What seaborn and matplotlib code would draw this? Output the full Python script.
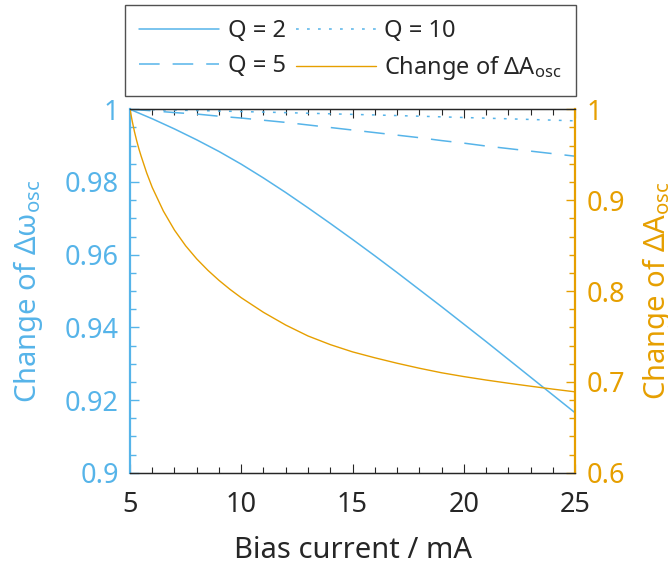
import matplotlib
matplotlib.use("Agg")
import matplotlib.pyplot as plt
import seaborn as sns
import pandas as pd
from matplotlib.ticker import MultipleLocator, FuncFormatter

# Bias current sweep (mA) for the oscillation-frequency curves
current_freq = [5, 6, 7, 8, 9, 10, 11, 12, 13, 14, 15,
                16, 17, 18, 19, 20, 21, 22, 23, 24, 25]

# Normalised change of the oscillation frequency for three quality factors
freq_q2 = [1.0000, 0.9974, 0.9946, 0.9916, 0.9884, 0.9849, 0.9811, 0.9771,
           0.9729, 0.9686, 0.9642, 0.9597, 0.9551, 0.9504, 0.9457, 0.9409,
           0.9361, 0.9312, 0.9263, 0.9214, 0.9165]
freq_q5 = [1.0000, 0.9996, 0.9991, 0.9987, 0.9981, 0.9976, 0.9970, 0.9964,
           0.9957, 0.9950, 0.9943, 0.9936, 0.9929, 0.9922, 0.9914, 0.9907,
           0.9899, 0.9892, 0.9885, 0.9878, 0.9871]
freq_q10 = [1.0000, 0.99989, 0.99978, 0.99966, 0.99953, 0.99939, 0.99924,
            0.99909, 0.99893, 0.99877, 0.99861, 0.99845, 0.99828, 0.99811,
            0.99793, 0.99775, 0.99757, 0.99739, 0.99721, 0.99702, 0.99683]

# Bias current sweep (mA) for the amplitude curve (denser near threshold)
current_amp = [5.0, 5.1, 5.2, 5.3, 5.4, 5.5, 5.75, 6.0, 6.5, 7.0, 7.5, 8.0,
               8.5, 9.0, 9.5, 10, 11, 12, 13, 14, 15, 16, 17, 18, 19, 20,
               21, 22, 23, 24, 25]
amp_change = [1.000, 0.987, 0.9755, 0.9655, 0.9565, 0.9485, 0.930, 0.914,
              0.888, 0.867, 0.8498, 0.8353, 0.8228, 0.8117, 0.8017, 0.7926,
              0.7765, 0.7625, 0.7505, 0.7410, 0.7330, 0.7265, 0.7205,
              0.7150, 0.7100, 0.7058, 0.7020, 0.6985, 0.6952, 0.6920, 0.6890]

series_labels = ["Q = 2", "Q = 5", "Q = 10"]
amp_label = "Change of ΔA$_{\\mathrm{osc}}$"

x_ticks = [5, 10, 15, 20, 25]
left_ticks = [0.9, 0.92, 0.94, 0.96, 0.98, 1.0]
right_ticks = [0.6, 0.7, 0.8, 0.9, 1.0]

BLUE = "#56B4E9"
ORANGE = "#E69F00"
DARK = "#262626"

sns.set_theme(style="white")
plt.rcParams["font.family"] = ["Noto Sans", "DejaVu Sans"]
plt.rcParams["mathtext.fontset"] = "custom"
plt.rcParams["mathtext.rm"] = "Noto Sans"
plt.rcParams["mathtext.it"] = "Noto Sans:italic"
plt.rcParams["mathtext.bf"] = "Noto Sans:bold"
plt.rcParams["text.color"] = DARK

fig = plt.figure(figsize=(6.68, 5.65), dpi=100)
ax = fig.add_axes([0.1946, 0.1634, 0.6662, 0.6431])
ax2 = ax.twinx()

freq_df = pd.DataFrame({
    "current": current_freq * 3,
    "value": freq_q2 + freq_q5 + freq_q10,
    "series": [series_labels[0]] * len(current_freq)
              + [series_labels[1]] * len(current_freq)
              + [series_labels[2]] * len(current_freq),
})
amp_df = pd.DataFrame({"current": current_amp, "value": amp_change})

styles = {
    "Q = 2": "-",
    "Q = 5": (0, (13.5, 8.5)),
    "Q = 10": (0, (1.8, 5.4)),
}
for name in series_labels:
    sub = freq_df[freq_df["series"] == name]
    sns.lineplot(data=sub, x="current", y="value", ax=ax, color=BLUE,
                 linewidth=1.1, linestyle=styles[name], label=name,
                 estimator=None, sort=False)

sns.lineplot(data=amp_df, x="current", y="value", ax=ax2, color=ORANGE,
             linewidth=1.0, label=amp_label, estimator=None, sort=False)

h1, l1 = ax.get_legend_handles_labels()
h2, l2 = ax2.get_legend_handles_labels()
for a in (ax, ax2):
    if a.get_legend() is not None:
        a.get_legend().remove()

# axis ranges and ticks
ax.set_xlim(5, 25)
ax.set_ylim(0.9, 1.0)
ax2.set_ylim(0.6, 1.0)
ax.set_xticks(x_ticks)
ax.set_yticks(left_ticks)
ax2.set_yticks(right_ticks)
ax.xaxis.set_minor_locator(MultipleLocator(1))
ax.yaxis.set_minor_locator(MultipleLocator(0.005))
ax2.yaxis.set_minor_locator(MultipleLocator(0.02))
fmt = FuncFormatter(lambda v, p: f"{v:g}")
ax.yaxis.set_major_formatter(fmt)
ax2.yaxis.set_major_formatter(fmt)
ax.xaxis.set_major_formatter(FuncFormatter(lambda v, p: f"{v:g}"))

ax.tick_params(axis="x", which="both", direction="in", top=True,
               bottom=True, color=DARK, labelcolor=DARK, labelsize=19.5,
               pad=13.5)
ax.tick_params(axis="x", which="major", length=6.5, width=0.8)
ax.tick_params(axis="x", which="minor", length=4, width=0.8)
ax.tick_params(axis="y", which="both", direction="in", left=True,
               right=False, color=BLUE, labelcolor=BLUE, labelsize=19.5,
               pad=8)
ax.tick_params(axis="y", which="major", length=6.5, width=1.0)
ax.tick_params(axis="y", which="minor", length=4, width=1.0)
ax2.tick_params(axis="y", which="both", direction="in", right=True,
                left=False, color=ORANGE, labelcolor=ORANGE, labelsize=19.5,
                pad=8)
ax2.tick_params(axis="y", which="major", length=6.5, width=1.0)
ax2.tick_params(axis="y", which="minor", length=4, width=1.0)

for a in (ax, ax2):
    for side in ("top", "bottom"):
        a.spines[side].set_color(DARK)
        a.spines[side].set_linewidth(0.9)
    a.spines["left"].set_color(BLUE)
    a.spines["right"].set_color(ORANGE)
    a.spines["left"].set_linewidth(1.6)
    a.spines["right"].set_linewidth(1.6)
ax2.spines["left"].set_visible(False)
ax.spines["right"].set_visible(False)

ax.set_xlabel("Bias current / mA", fontsize=21, color=DARK, labelpad=12)
ax.set_ylabel("Change of Δω$_{\\mathrm{osc}}$", fontsize=21, color=BLUE,
              labelpad=14)
ax2.set_ylabel(amp_label, fontsize=21, color=ORANGE, labelpad=11)

# boxed two-column legend above the axes
handles = h1 + h2
labels = l1 + l2
leg = fig.legend(handles, labels,
                 loc="upper left",
                 bbox_to_anchor=(0.187, 0.837, 0.675, 0.154),
                 mode="expand", ncol=2, fontsize=17, frameon=True,
                 fancybox=False, edgecolor=DARK, handlelength=3.4,
                 handletextpad=0.35, labelspacing=0.45, borderpad=0.6,
                 borderaxespad=0.0)
leg.get_frame().set_linewidth(1.0)

fig.savefig("out.png", dpi=100)
